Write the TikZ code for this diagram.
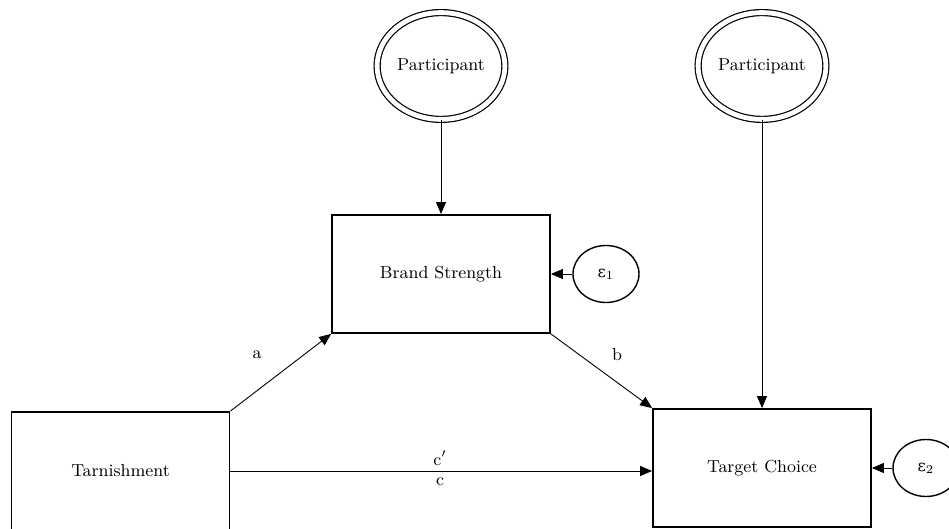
\documentclass[tikz,border=0pt]{standalone}
\usepackage{fontspec}
\newfontfamily\greekfont{DejaVu Serif}
\usetikzlibrary{shapes.geometric,arrows.meta}
\tikzset{
  var/.style={draw,line width=0.9pt,minimum width=109pt,minimum height=59pt,inner sep=0pt},
  latent/.style={ellipse,draw,double,double distance=2.4pt,line width=0.6pt,minimum width=63.9pt,minimum height=53.4pt,inner sep=0pt},
  err/.style={ellipse,draw,line width=0.7pt,minimum width=33pt,minimum height=28.5pt,inner sep=0pt},
  pathto/.style={-{Triangle[length=6pt,width=5pt]},line width=0.45pt},
}
\newcommand{\errlabel}[1]{{\greekfont\fontsize{8}{10}\selectfont ε}$_{#1}$}
\begin{document}
\begin{tikzpicture}[x=0.5pt,y=-0.5pt,font=\fontsize{8.7}{10}\selectfont]
\useasboundingbox (0,0) rectangle (949,529);
% latent participant terms
\node[latent] (part1) at (441,66) {Participant};
\node[latent] (part2) at (762,66) {Participant};
% observed variables
\node[var] (brand) at (441,274) {Brand Strength};
\node[var] (target) at (762,468) {Target Choice};
\node[var] (tarn) at (120.5,471) {Tarnishment};
% residuals
\node[err] (eps1) at (606,274) {\errlabel{1}};
\node[err] (eps2) at (926,468) {\errlabel{2}};

\draw[pathto] (part1) -- (brand);
\draw[pathto] (part2) -- (target);
\draw[pathto] (eps1) -- (brand);
\draw[pathto] (eps2) -- (target);
\draw[pathto] (tarn.north east) -- (brand.south west);
\draw[pathto] (brand.south east) -- (target.north west);
\draw[pathto] (tarn.east) -- (tarn.east -| target.west);

% path labels
\node (lbla) at (257,355) {a};
\node (lblb) at (617,355) {b};
\node (lblcp) at (440,458) {c$'$};
\node (lblc) at (440,482) {c};
\end{tikzpicture}
\end{document}
